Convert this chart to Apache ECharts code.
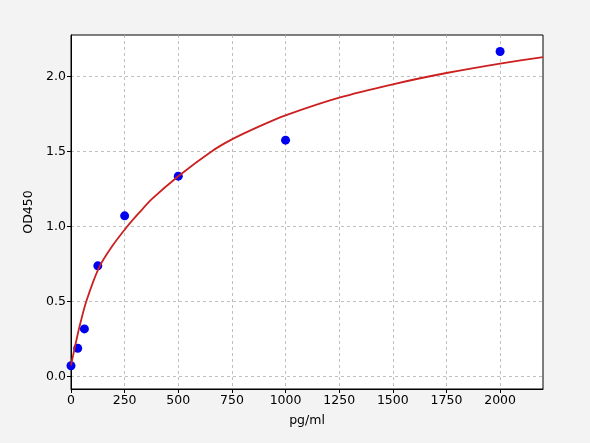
<!DOCTYPE html>
<html>
<head>
<meta charset="utf-8">
<script src="https://cdn.jsdelivr.net/npm/echarts@6/dist/echarts.min.js"></script>
<style>
html,body{margin:0;padding:0;background:#f3f3f3;}
#chart{width:590px;height:443px;}
</style>
</head>
<body>
<div id="chart"></div>
<script>
// measured standard points
const concentrations = [0, 31.25, 62.5, 125, 250, 500, 1000, 2000];
const odValues = [0.073, 0.189, 0.318, 0.738, 1.071, 1.335, 1.575, 2.165];
// fitted curve
const curveX = [0, 18.5, 37, 71, 130, 190, 262, 320, 375, 500, 655, 750, 875, 1000, 1250, 1500, 1750, 2000, 2200];
const curveY = [0.075, 0.2, 0.318, 0.5, 0.725, 0.865, 1.0, 1.095, 1.18, 1.335, 1.5, 1.58, 1.665, 1.74, 1.858, 1.947, 2.022, 2.085, 2.128];
// axis ticks
const xTicks = [0, 250, 500, 750, 1000, 1250, 1500, 1750, 2000];
const yTicks = [0, 0.5, 1.0, 1.5, 2.0];

const chart = echarts.init(document.getElementById('chart'), null, {renderer: 'canvas'});
const font = 'DejaVu Sans';
const gridLine = {show: true, lineStyle: {color: '#b0b0b0', type: [3, 3], width: 0.8}};
chart.setOption({
  backgroundColor: '#f3f3f3',
  animation: false,
  grid: {left: 71, right: 47, top: 35, bottom: 54, show: true, backgroundColor: '#ffffff', borderColor: '#000', borderWidth: 1},
  xAxis: {
    type: 'value', min: 0, max: 2200,
    name: 'pg/ml', nameLocation: 'middle', nameGap: 25,
    nameTextStyle: {fontFamily: font, fontSize: 12.5, color: '#000'},
    axisLine: {show: true, onZero: false, lineStyle: {color: '#000', width: 1}},
    axisTick: {show: true, length: 4, customValues: xTicks, lineStyle: {color: '#000'}},
    axisLabel: {customValues: xTicks, fontFamily: font, fontSize: 12.5, color: '#000', margin: 5,
      formatter: v => String(v)},
    splitLine: gridLine
  },
  yAxis: {
    type: 'value', min: -0.082, max: 2.275,
    name: 'OD450', nameLocation: 'middle', nameGap: 33,
    nameTextStyle: {fontFamily: font, fontSize: 12.5, color: '#000'},
    axisLine: {show: true, onZero: false, lineStyle: {color: '#000', width: 1}},
    axisTick: {show: true, length: 4, customValues: yTicks, lineStyle: {color: '#000'}},
    axisLabel: {customValues: yTicks, fontFamily: font, fontSize: 12.5, color: '#000', margin: 5,
      formatter: v => v.toFixed(1)},
    splitLine: gridLine
  },
  series: [
    {
      type: 'scatter', data: concentrations.map((x, i) => [x, odValues[i]]),
      symbolSize: 9, itemStyle: {color: '#0000f0', opacity: 1}, z: 2
    },
    {
      type: 'line', data: curveX.map((x, i) => [x, curveY[i]]),
      smooth: 0.2, showSymbol: false, symbol: 'none',
      lineStyle: {color: '#cc1f1f', width: 1.8}, z: 3
    }
  ]
});
</script>
</body>
</html>
